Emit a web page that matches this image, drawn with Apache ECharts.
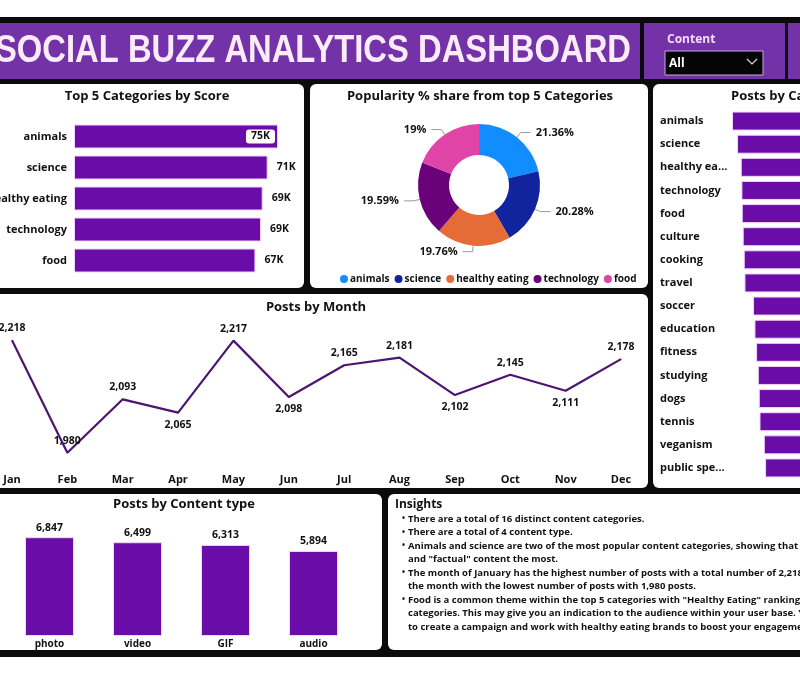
<!DOCTYPE html>
<html><head><meta charset="utf-8">
<script src="https://cdn.jsdelivr.net/npm/echarts@6/dist/echarts.min.js"></script>
<style>html,body{margin:0;padding:0;background:#fff;}#c{width:800px;height:674px;}</style>
</head><body><div id="c"></div>
<script>
// ---------- data ----------
const topCategories = ['animals', 'science', 'healthy eating', 'technology', 'food'];
const topScores = [74965, 71168, 69347, 68738, 66676];

const shareCategories = ['animals', 'science', 'healthy eating', 'technology', 'food'];
const sharePercents = [21.36, 20.28, 19.76, 19.59, 19.00];

const postCategories = ['animals', 'science', 'healthy eating', 'technology', 'food', 'culture', 'cooking', 'travel',
  'soccer', 'education', 'fitness', 'studying', 'dogs', 'tennis', 'veganism', 'public speaking'];
const postCounts = [1897, 1793, 1717, 1703, 1696, 1676, 1655, 1640, 1463, 1434, 1400, 1365, 1345, 1330, 1241, 1214];

const months = ['Jan', 'Feb', 'Mar', 'Apr', 'May', 'Jun', 'Jul', 'Aug', 'Sep', 'Oct', 'Nov', 'Dec'];
const monthPosts = [2218, 1980, 2093, 2065, 2217, 2098, 2165, 2181, 2102, 2145, 2111, 2178];

const contentTypes = ['photo', 'video', 'GIF', 'audio'];
const contentPosts = [6847, 6499, 6313, 5894];

const insightLines = [
  ['•', 'There are a total of 16 distinct content categories.'],
  ['•', 'There are a total of 4 content type.'],
  ['•', 'Animals and science are two of the most popular content categories, showing that people enjoy "nature"'],
  ['', 'and "factual" content the most.'],
  ['•', 'The month of January has the highest number of posts with a total number of 2,218 posts, with February being'],
  ['', 'the month with the lowest number of posts with 1,980 posts.'],
  ['•', 'Food is a common theme within the top 5 categories with "Healthy Eating" ranking 3rd out of all the'],
  ['', 'categories. This may give you an indication to the audience within your user base. You may want'],
  ['', 'to create a campaign and work with healthy eating brands to boost your engagement.']
];

// ---------- styling ----------
const FONT = '"Open Sans", "Noto Sans", sans-serif';
const BAR = '#6a0ca8';
const BAR_EDGE = '#f1d4fa';
const HEADER = '#7432a8';
const PIE_COLORS = ['#118DFF', '#12239E', '#E66C37', '#6B007B', '#E044A7'];
const fmt = v => v.toLocaleString('en-US');

const chart = echarts.init(document.getElementById('c'), null, { renderer: 'canvas' });

// header title width fit
const TITLE = 'SOCIAL BUZZ ANALYTICS DASHBOARD';
const TITLE_FONT = 'bold 39px "Liberation Sans", Arial, sans-serif';
const mctx = document.createElement('canvas').getContext('2d');
mctx.font = TITLE_FONT;
const titleScale = 636 / mctx.measureText(TITLE).width;

function panel(x, y, w, h) {
  return { type: 'rect', shape: { x, y, width: w, height: h, r: 6 }, style: { fill: '#fff' }, z: -1 };
}
function txt(text, x, y, font, fill, align, extra) {
  return Object.assign({
    type: 'text', z: 5,
    style: { text, x, y, font, fill: fill || '#111', align: align || 'left', textAlign: align || 'left',
      verticalAlign: 'middle', textVerticalAlign: 'middle' }
  }, extra || {});
}

const graphics = [
  { type: 'rect', shape: { x: 0, y: 17, width: 800, height: 640 }, style: { fill: '#0b0b0b' }, z: -2 },
  { type: 'rect', shape: { x: 0, y: 23, width: 640, height: 56 }, style: { fill: HEADER }, z: -1 },
  { type: 'rect', shape: { x: 644, y: 23, width: 141, height: 56 }, style: { fill: HEADER }, z: -1 },
  { type: 'rect', shape: { x: 788, y: 23, width: 20, height: 56 }, style: { fill: HEADER }, z: -1 },
  { type: 'rect', shape: { x: 665, y: 51, width: 98, height: 24 }, style: { fill: '#050505', stroke: '#c8a4e6', lineWidth: 1 }, z: 2 },
  { type: 'polyline', shape: { points: [[747, 59], [752, 64], [757, 59]] }, style: { stroke: '#ddd', lineWidth: 1.2, fill: null }, z: 3 },
  {
    type: 'text', x: -5, y: 51, scaleX: titleScale, scaleY: 1, z: 5,
    style: { text: TITLE, x: 0, y: 0, font: TITLE_FONT, fill: '#fcecf9', align: 'left', textAlign: 'left', verticalAlign: 'middle', textVerticalAlign: 'middle' }
  },
  txt('Content', 667, 40, 'bold 12px ' + FONT, '#f3dcff'),
  txt('All', 669, 64, 'bold 12px ' + FONT, '#fff'),
  panel(-10, 84, 314, 204),
  panel(310, 84, 338, 204),
  panel(653, 84, 160, 404),
  panel(-10, 294, 658, 194),
  panel(-10, 494, 392, 156),
  panel(388, 494, 420, 156),
  txt('Top 5 Categories by Score', 147, 96, 'bold 13px ' + FONT, '#111', 'center'),
  txt('Popularity % share from top 5 Categories', 480, 96, 'bold 13px ' + FONT, '#111', 'center'),
  txt('Posts by Category', 731, 96, 'bold 13px ' + FONT, '#111', 'left'),
  txt('Posts by Month', 316, 307, 'bold 13px ' + FONT, '#111', 'center'),
  txt('Posts by Content type', 184, 504, 'bold 13px ' + FONT, '#111', 'center'),
  txt('Insights', 395, 505, 'bold 12px ' + FONT, '#111', 'left')
];
insightLines.forEach((ln, i) => {
  const y = 519 + i * 13.5;
  if (ln[0]) graphics.push(txt(ln[0], 402, y, 'bold 8px ' + FONT, '#111', 'left'));
  graphics.push(txt(ln[1], 408, y, 'bold 9.5px ' + FONT, '#111', 'left'));
});

// line labels: local minima below, except near the floor
const yMinLine = 1950, yMaxLine = 2250;
const monthData = monthPosts.map((v, i) => {
  const prev = i > 0 ? monthPosts[i - 1] : Infinity;
  const next = i < monthPosts.length - 1 ? monthPosts[i + 1] : Infinity;
  const below = v < prev && v < next && (v - yMinLine) > 60;
  return { value: v, label: { position: below ? 'bottom' : 'top' } };
});

const maxScore = Math.max(...topScores);
const scoreData = topScores.map(v => v === maxScore
  ? { value: v, label: { position: 'insideRight', distance: 3, backgroundColor: '#fff', borderRadius: 3, padding: [2, 5, 1, 5] } }
  : { value: v });

const hiddenVal = (min, max, gi) => ({ type: 'value', gridIndex: gi, min, max, show: false, splitLine: { show: false } });
const axisZ = { z: 10 };

const option = {
  animation: false,
  textStyle: { fontFamily: FONT },
  graphic: graphics,
  color: PIE_COLORS,
  legend: {
    data: shareCategories, left: 335, top: 269, icon: 'circle', itemWidth: 8, itemHeight: 8, itemGap: 5,
    textStyle: { fontSize: 10, fontWeight: 'bold', color: '#111', fontFamily: FONT, padding: [0, 0, 0, -3] }
  },
  grid: [
    { left: 74, top: 121, width: 204, height: 155, outerBoundsMode: 'none', containLabel: false },
    { left: 727, top: 109.5, width: 97, height: 370, outerBoundsMode: 'none', containLabel: false },
    { left: 12, top: 325, width: 609, height: 142, outerBoundsMode: 'none', containLabel: false },
    { left: 5.5, top: 535, width: 352, height: 101, outerBoundsMode: 'none', containLabel: false }
  ],
  xAxis: [
    hiddenVal(0, maxScore, 0),
    Object.assign(hiddenVal(0, 2000, 1), { inverse: true }),
    Object.assign({ type: 'category', gridIndex: 2, data: months, boundaryGap: false,
      axisLine: { show: false }, axisTick: { show: false },
      axisLabel: { fontSize: 11, fontWeight: 'bold', color: '#111', margin: 7, interval: 0 } }, axisZ),
    Object.assign({ type: 'category', gridIndex: 3, data: contentTypes,
      axisLine: { show: false }, axisTick: { show: false },
      axisLabel: { fontSize: 10, fontWeight: 'bold', color: '#111', margin: 3 } }, axisZ)
  ],
  yAxis: [
    Object.assign({ type: 'category', gridIndex: 0, data: topCategories, inverse: true,
      axisLine: { show: false }, axisTick: { show: false },
      axisLabel: { fontSize: 11, fontWeight: 'bold', color: '#111', margin: 7 } }, axisZ),
    Object.assign({ type: 'category', gridIndex: 1, data: postCategories, inverse: true, position: 'left',
      axisLine: { show: false, onZero: false }, axisTick: { show: false },
      axisLabel: { fontSize: 11, fontWeight: 'bold', color: '#111', margin: 67, align: 'left',
        width: 71, overflow: 'truncate', ellipsis: '...', interval: 0 } }, axisZ),
    hiddenVal(yMinLine, yMaxLine, 2),
    hiddenVal(0, 7000, 3)
  ],
  series: [
    { type: 'bar', xAxisIndex: 0, yAxisIndex: 0, data: scoreData, barWidth: 24,
      itemStyle: { color: BAR, borderColor: BAR_EDGE, borderWidth: 1 },
      label: { show: true, position: 'right', distance: 9, fontSize: 10.5, fontWeight: 'bold', color: '#111',
        formatter: p => Math.round(p.value / 1000) + 'K' } },
    { type: 'pie', center: [479, 185], radius: [30, 61], startAngle: 90, clockwise: true,
      data: shareCategories.map((n, i) => ({ name: n, value: sharePercents[i] })),
      label: { show: true, position: 'outside', fontSize: 11, fontWeight: 'bold', color: '#111',
        formatter: p => Number(p.value) + '%' },
      labelLine: { show: true, length: 6, length2: 10, lineStyle: { color: '#999', width: 1 } } },
    { type: 'bar', xAxisIndex: 1, yAxisIndex: 1, data: postCounts, barWidth: 19,
      itemStyle: { color: BAR, borderColor: BAR_EDGE, borderWidth: 1 } },
    { type: 'line', xAxisIndex: 2, yAxisIndex: 2, data: monthData, symbol: 'circle', symbolSize: 1,
      lineStyle: { color: '#4b1572', width: 2.2 }, itemStyle: { color: '#4b1572' },
      label: { show: true, fontSize: 10.5, fontWeight: 'bold', color: '#111', distance: 6,
        formatter: p => fmt(p.value) } },
    { type: 'bar', xAxisIndex: 3, yAxisIndex: 3, data: contentPosts, barWidth: 49,
      itemStyle: { color: BAR, borderColor: BAR_EDGE, borderWidth: 1 },
      label: { show: true, position: 'top', distance: 4, fontSize: 10.5, fontWeight: 'bold', color: '#111',
        formatter: p => fmt(p.value) } }
  ]
};
chart.setOption(option);
</script>
</body></html>
